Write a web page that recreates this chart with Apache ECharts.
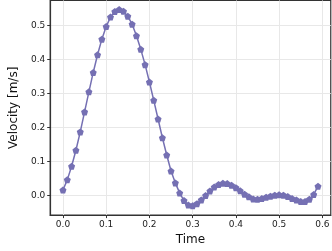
<!DOCTYPE html>
<html><head><meta charset="utf-8">
<script src="https://cdn.jsdelivr.net/npm/echarts@6/dist/echarts.min.js"></script>
<style>html,body{margin:0;padding:0;background:#fff}#c{width:332px;height:251px}</style>
</head><body><div id="c"></div>
<script>
const time = [0.00,0.01,0.02,0.03,0.04,0.05,0.06,0.07,0.08,0.09,0.10,0.11,0.12,0.13,0.14,0.15,0.16,0.17,0.18,0.19,0.20,0.21,0.22,0.23,0.24,0.25,0.26,0.27,0.28,0.29,0.30,0.31,0.32,0.33,0.34,0.35,0.36,0.37,0.38,0.39,0.40,0.41,0.42,0.43,0.44,0.45,0.46,0.47,0.48,0.49,0.50,0.51,0.52,0.53,0.54,0.55,0.56,0.57,0.58,0.59];
const velocity = [0.016,0.046,0.086,0.133,0.187,0.246,0.305,0.362,0.414,0.460,0.497,0.525,0.541,0.547,0.542,0.527,0.504,0.470,0.430,0.385,0.334,0.280,0.225,0.170,0.119,0.072,0.037,0.007,-0.015,-0.028,-0.030,-0.024,-0.013,0.000,0.013,0.025,0.032,0.036,0.035,0.030,0.023,0.014,0.004,-0.004,-0.010,-0.011,-0.009,-0.005,-0.002,0.001,0.002,0.001,-0.003,-0.009,-0.013,-0.018,-0.018,-0.011,0.003,0.027];
const xTicks = [0.0,0.1,0.2,0.3,0.4,0.5,0.6];
const yTicks = [0.0,0.1,0.2,0.3,0.4,0.5];
const xLabel = 'Time';
const yLabel = 'Velocity [m/s]';

const chart = echarts.init(document.getElementById('c'), null, {renderer:'canvas'});
const font = 'DejaVu Sans';
const pent = 'path://M0,-1 L0.951,-0.309 L0.588,0.809 L-0.588,0.809 L-0.951,-0.309 Z';
chart.setOption({
  animation:false,
  grid:{left:34,top:0.5,right:0,bottom:29,show:true,borderColor:'#333',borderWidth:1.2,backgroundColor:'#fff'},
  xAxis:{type:'value',min:-0.0295,max:0.6195,
    name:xLabel,nameLocation:'middle',nameGap:16,
    nameTextStyle:{fontFamily:font,fontSize:12,color:'#111'},
    axisLine:{show:true,onZero:false,lineStyle:{color:'#333',width:1.2}},
    axisTick:{show:true,length:3,lineStyle:{color:'#333'},customValues:xTicks},
    axisLabel:{fontFamily:font,fontSize:9,color:'#222',margin:5,customValues:xTicks,formatter:v=>v.toFixed(1)},
    splitLine:{show:true,lineStyle:{color:'#e8e8e8',width:1}},
    interval:0.1
  },
  yAxis:{type:'value',min:-0.0577,max:0.5737,
    name:yLabel,nameLocation:'middle',nameGap:23,
    nameTextStyle:{fontFamily:font,fontSize:12,color:'#111'},
    axisLine:{show:true,onZero:false,lineStyle:{color:'#333',width:1.2}},
    axisTick:{show:true,length:3,lineStyle:{color:'#333'},customValues:yTicks},
    axisLabel:{fontFamily:font,fontSize:9,color:'#222',margin:5,customValues:yTicks,formatter:v=>v.toFixed(1)},
    splitLine:{show:true,lineStyle:{color:'#e8e8e8',width:1}},
  },
  series:[{type:'line',data:time.map((t,i)=>[t,velocity[i]]),
    symbol:pent,symbolSize:7,showAllSymbol:true,
    lineStyle:{color:'#7570b3',width:1.5},
    itemStyle:{color:'#7570b3',borderWidth:0}}]
});
</script></body></html>
